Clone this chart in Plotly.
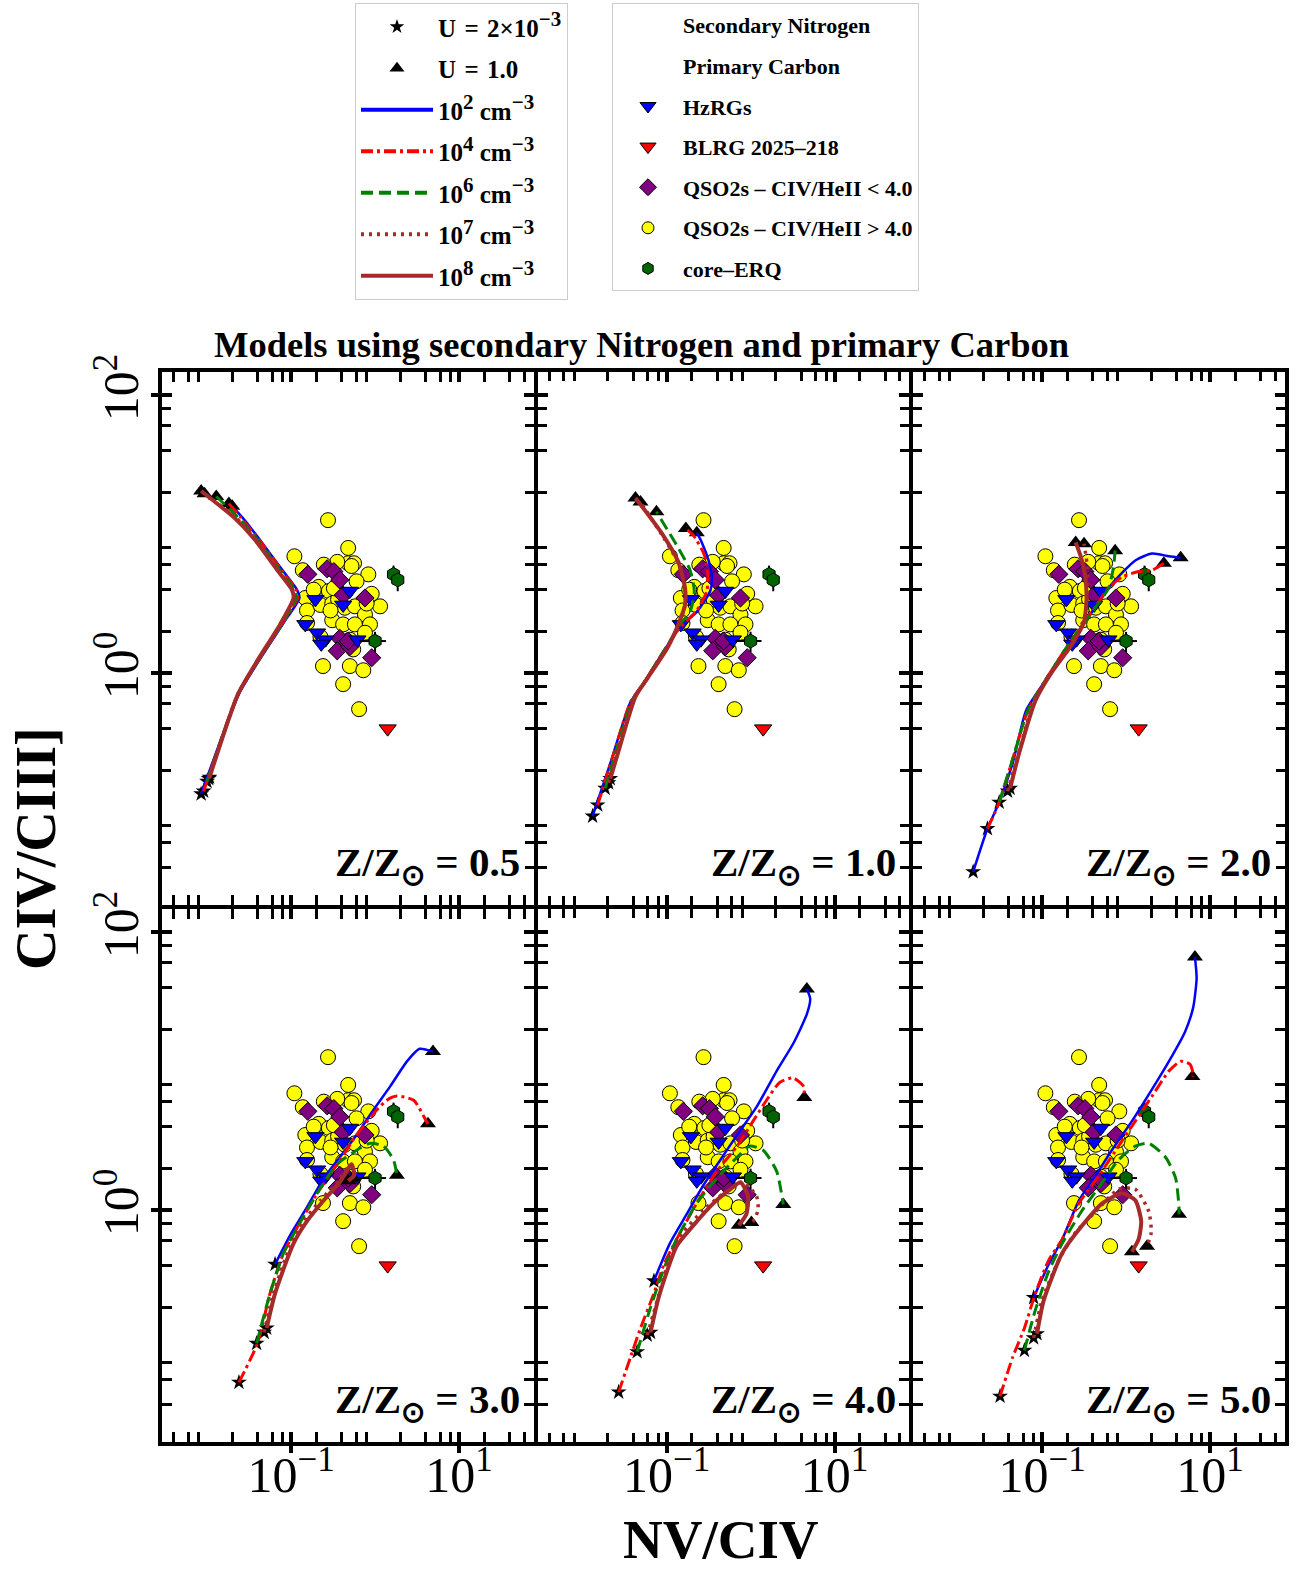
import numpy as np
import plotly.graph_objects as go

W, H = 1307, 1573
FONT = "Liberation Serif"

# ---------------- observations: log10(NV/CIV), log10(CIV/CIII]) ----------------
qso2_hi_lognv = [-0.56, -0.96, -0.32, -0.32, -0.25, -0.28, -0.08, -0.45, -0.61, -0.86, -0.22,
                 -0.67, -0.55, -0.83, -0.04, 0.06, -0.81, -0.65, -0.51, -0.36, -0.24, -0.12,
                 -0.51, -0.38, -0.24, -0.06, -0.81, -0.65, -0.12, -0.62, -0.30, -0.14, -0.38,
                 -0.19, -0.73, -0.44, -0.30, -0.26, -0.10, -0.49, -0.53]
qso2_hi_logciv = [1.10, 0.84, 0.90, 0.79, 0.79, 0.77, 0.71, 0.80, 0.78, 0.74, 0.66,
                  0.62, 0.59, 0.54, 0.57, 0.48, 0.45, 0.49, 0.50, 0.47, 0.48, 0.42,
                  0.38, 0.35, 0.35, 0.35, 0.36, 0.26, 0.29, 0.05, 0.05, 0.02, -0.08,
                  -0.26, 0.60, 0.53, 0.24, 0.17, 0.50, 0.61, 0.45]

qso2_lo_lognv = [-0.80, -0.57, -0.49, -0.42, -0.38, -0.12, -0.42, -0.45, -0.30, -0.04, -0.32]
qso2_lo_logciv = [0.71, 0.75, 0.73, 0.67, 0.56, 0.54, 0.25, 0.16, 0.19, 0.11, 0.23]

hzrg_lognv = [-0.71, -0.38, -0.30, -0.83, -0.69, -0.59, -0.64, -0.21]
hzrg_logciv = [0.53, 0.49, 0.59, 0.35, 0.29, 0.24, 0.21, 0.24]

blrg_lognv = [0.15]
blrg_logciv = [-0.40]

erq_lognv = [0.22, 0.27, 0.00]
erq_logciv = [0.71, 0.67, 0.23]
erq_err_nv = [0.0, 0.0, 0.35]
erq_err_civ = [0.8, 0.8, 0.28]

# ---------------- photoionisation model tracks (log10 values) ----------------
# order of tracks in each panel: 1e2, 1e4, 1e6, 1e7, 1e8 cm^-3 ; first point U=2e-3, last U=1.0
z05_x = [[-2.07, -1.62, -1.36, -1.09, -0.90, -0.93, -1.09, -1.36, -1.58, -1.70],
         [-2.04, -1.63, -1.37, -1.10, -0.92, -0.94, -1.10, -1.37, -1.60, -1.74],
         [-2.00, -1.63, -1.38, -1.11, -0.94, -0.96, -1.12, -1.40, -1.63, -1.89],
         [-1.98, -1.63, -1.38, -1.12, -0.96, -0.98, -1.14, -1.42, -1.66, -2.03],
         [-1.97, -1.63, -1.39, -1.13, -0.97, -0.99, -1.15, -1.43, -1.68, -2.07]]
z05_y = [[-0.87, -0.15, 0.11, 0.36, 0.54, 0.60, 0.73, 0.95, 1.12, 1.20],
         [-0.85, -0.15, 0.11, 0.36, 0.54, 0.60, 0.73, 0.95, 1.12, 1.22],
         [-0.78, -0.15, 0.10, 0.35, 0.54, 0.60, 0.73, 0.96, 1.12, 1.27],
         [-0.76, -0.15, 0.10, 0.35, 0.54, 0.60, 0.73, 0.96, 1.12, 1.29],
         [-0.75, -0.15, 0.10, 0.35, 0.54, 0.60, 0.73, 0.96, 1.12, 1.31]]

z10_x = [[-1.88, -1.67, -1.43, -1.27, -1.03, -0.84, -0.64, -0.48, -0.46, -0.50, -0.58, -0.64],
         [-1.82, -1.65, -1.43, -1.27, -1.03, -0.84, -0.64, -0.52, -0.51, -0.55, -0.68, -0.77],
         [-1.73, -1.63, -1.41, -1.27, -1.03, -0.84, -0.72, -0.67, -0.72, -0.88, -1.12],
         [-1.69, -1.61, -1.39, -1.25, -1.01, -0.86, -0.78, -0.78, -0.86, -1.03, -1.31],
         [-1.67, -1.60, -1.37, -1.23, -0.99, -0.88, -0.78, -0.78, -0.86, -1.05, -1.37]]
z10_y = [[-1.03, -0.65, -0.21, -0.07, 0.16, 0.33, 0.44, 0.59, 0.69, 0.81, 0.94, 1.01],
         [-0.95, -0.62, -0.21, -0.07, 0.16, 0.33, 0.45, 0.59, 0.71, 0.85, 0.99, 1.04],
         [-0.83, -0.62, -0.20, -0.07, 0.16, 0.35, 0.44, 0.59, 0.74, 0.92, 1.16],
         [-0.79, -0.62, -0.18, -0.06, 0.17, 0.33, 0.49, 0.61, 0.79, 0.97, 1.23],
         [-0.76, -0.62, -0.17, -0.04, 0.18, 0.32, 0.49, 0.61, 0.80, 1.00, 1.26]]

z20_x = [[-1.82, -1.65, -1.51, -1.35, -1.19, -1.00, -0.80, -0.64, -0.44, -0.17, 0.11, 0.31, 0.51, 0.65],
         [-1.65, -1.51, -1.35, -1.17, -1.00, -0.68, -0.44, -0.21, -0.05, 0.15, 0.31, 0.45],
         [-1.51, -1.35, -1.17, -1.00, -0.68, -0.44, -0.21, -0.15, -0.13],
         [-1.41, -1.29, -1.10, -0.92, -0.68, -0.50, -0.46, -0.46, -0.50],
         [-1.38, -1.27, -1.08, -0.88, -0.64, -0.50, -0.47, -0.49, -0.54, -0.60]]
z20_y = [[-1.43, -1.12, -0.93, -0.65, -0.27, -0.09, 0.08, 0.23, 0.41, 0.64, 0.81, 0.86, 0.84, 0.83],
         [-1.12, -0.93, -0.62, -0.27, -0.09, 0.21, 0.41, 0.61, 0.69, 0.73, 0.74, 0.79],
         [-0.93, -0.62, -0.27, -0.09, 0.21, 0.41, 0.61, 0.76, 0.88],
         [-0.85, -0.60, -0.21, -0.02, 0.18, 0.39, 0.59, 0.76, 0.93],
         [-0.83, -0.57, -0.20, 0.01, 0.21, 0.37, 0.54, 0.71, 0.84, 0.94]]

z30_x = [[-1.19, -1.01, -0.81, -0.61, -0.42, -0.22, -0.02, 0.18, 0.38, 0.53, 0.69],
         [-1.62, -1.40, -1.25, -1.09, -0.93, -0.69, -0.45, -0.22, 0.02, 0.14, 0.26, 0.46, 0.61, 0.63],
         [-1.41, -1.25, -1.09, -0.93, -0.69, -0.45, -0.22, -0.06, 0.10, 0.22, 0.26],
         [-1.32, -1.21, -1.01, -0.85, -0.65, -0.45, -0.30, -0.24, -0.26],
         [-1.29, -1.19, -0.97, -0.81, -0.61, -0.42, -0.28, -0.25, -0.32]]
z30_y = [[-0.39, -0.18, 0.02, 0.23, 0.38, 0.54, 0.72, 0.89, 1.07, 1.16, 1.14],
         [-1.24, -0.96, -0.60, -0.31, -0.13, 0.12, 0.33, 0.54, 0.72, 0.79, 0.82, 0.79, 0.64, 0.62],
         [-0.96, -0.60, -0.31, -0.13, 0.12, 0.33, 0.43, 0.48, 0.46, 0.36, 0.25],
         [-0.88, -0.60, -0.26, -0.08, 0.07, 0.20, 0.32, 0.28, 0.23],
         [-0.85, -0.60, -0.24, -0.08, 0.07, 0.20, 0.33, 0.25, 0.21]]

z40_x = [[-1.15, -0.96, -0.76, -0.56, -0.36, -0.16, 0.07, 0.31, 0.51, 0.67, 0.71, 0.67],
         [-1.57, -1.43, -1.31, -1.15, -1.03, -0.88, -0.64, -0.40, -0.16, 0.03, 0.19, 0.35, 0.51, 0.63, 0.64],
         [-1.35, -1.19, -1.03, -0.88, -0.64, -0.40, -0.16, -0.01, 0.15, 0.31, 0.39],
         [-1.23, -1.11, -0.96, -0.80, -0.56, -0.32, -0.09, 0.07, 0.09, 0.03, 0.01],
         [-1.19, -1.09, -0.88, -0.68, -0.44, -0.24, -0.12, -0.03, -0.05, -0.14]]
z40_y = [[-0.51, -0.24, -0.03, 0.18, 0.36, 0.54, 0.74, 1.00, 1.20, 1.41, 1.52, 1.59],
         [-1.31, -1.06, -0.85, -0.60, -0.39, -0.21, 0.05, 0.28, 0.46, 0.64, 0.79, 0.92, 0.95, 0.89, 0.81],
         [-1.02, -0.70, -0.42, -0.21, 0.05, 0.23, 0.38, 0.46, 0.43, 0.28, 0.04],
         [-0.90, -0.65, -0.34, -0.16, 0.00, 0.12, 0.20, 0.10, 0.00, -0.08, -0.09],
         [-0.88, -0.62, -0.26, -0.11, 0.05, 0.15, 0.20, 0.10, -0.03, -0.11]]

z50_x = [[-1.10, -0.92, -0.76, -0.56, -0.36, -0.17, 0.07, 0.31, 0.51, 0.70, 0.80, 0.84, 0.82],
         [-1.50, -1.35, -1.21, -1.08, -0.92, -0.76, -0.56, -0.32, -0.09, 0.11, 0.31, 0.51, 0.65, 0.76, 0.80, 0.79],
         [-1.21, -1.08, -0.92, -0.76, -0.52, -0.28, -0.09, 0.11, 0.27, 0.47, 0.59, 0.63, 0.63],
         [-1.10, -1.00, -0.80, -0.60, -0.36, -0.09, 0.11, 0.27, 0.30, 0.25],
         [-1.06, -0.98, -0.76, -0.52, -0.28, -0.05, 0.11, 0.18, 0.15, 0.07]]
z50_y = [[-0.63, -0.39, -0.21, 0.07, 0.25, 0.43, 0.64, 0.87, 1.07, 1.28, 1.46, 1.67, 1.82],
         [-1.34, -1.06, -0.85, -0.60, -0.36, -0.21, 0.05, 0.25, 0.46, 0.64, 0.82, 1.00, 1.07, 1.05, 0.97, 0.96],
         [-1.01, -0.72, -0.44, -0.24, 0.00, 0.20, 0.36, 0.46, 0.48, 0.38, 0.23, 0.02, -0.03],
         [-0.92, -0.65, -0.36, -0.16, -0.01, 0.15, 0.15, -0.01, -0.16, -0.26],
         [-0.89, -0.65, -0.31, -0.11, 0.05, 0.12, 0.07, -0.08, -0.21, -0.30]]

metallicities = ["0.5", "1.0", "2.0", "3.0", "4.0", "5.0"]
panel_x = [z05_x, z10_x, z20_x, z30_x, z40_x, z50_x]
panel_y = [z05_y, z10_y, z20_y, z30_y, z40_y, z50_y]

SUP = '<sup><span style="font-size:21px">%s</span></sup>'
SP = "\u2004"
density_labels = ["10" + SUP % "2" + " cm" + SUP % "−3", "10" + SUP % "4" + " cm" + SUP % "−3",
                  "10" + SUP % "6" + " cm" + SUP % "−3", "10" + SUP % "7" + " cm" + SUP % "−3",
                  "10" + SUP % "8" + " cm" + SUP % "−3"]
track_colors = ["#0000ff", "#ff0000", "#008000", "#a52a2a", "#a52a2a"]
track_dash = ["solid", "12px,4px,3px,4px", "12px,6px", "3px,5px", "solid"]
track_width = [2.5, 3, 3, 3.5, 4]

x_minor = [m * 10.0 ** k for k in range(-3, 2) for m in (2, 4, 6, 8)]
y_minor = [m * 10.0 ** k for k in range(-2, 2) for m in (2, 4, 6, 8)]
x_major = [0.1, 10]
y_major = [1, 100]


def lin(a):
    return 10.0 ** np.asarray(a, dtype=float)


fig = go.Figure()

LW = 4  # frame line width
x_edges = [160, 535.5, 911, 1286.5]   # frame centre lines (px)
y_edges = [370, 907, 1444]
X_RANGE = [-2.536, 1.886]
Y_RANGE = [-1.669, 2.166]

layout_axes = {}
annotations = []
for i in range(6):
    r, c = divmod(i, 3)
    sfx = "" if i == 0 else str(i + 1)
    xa = "x" + sfx
    ya = "y" + sfx
    xd = [(x_edges[c] + LW / 2) / W, (x_edges[c + 1] - LW / 2) / W]
    yd = [1 - (y_edges[r + 1] - LW / 2) / H, 1 - (y_edges[r] + LW / 2) / H]
    common = dict(type="log", showline=True, linecolor="black", linewidth=LW, mirror="allticks",
                  ticks="inside", ticklen=10, tickwidth=4, tickcolor="black",
                  showgrid=False, zeroline=False,
                  tickfont=dict(family=FONT, size=50, color="black"))
    layout_axes["xaxis" + sfx] = dict(
        common, domain=xd, anchor=ya, range=X_RANGE,
        tickmode="array", tickvals=x_major, ticktext=["10<sup>−1</sup>", "10<sup>1</sup>"],
        showticklabels=(r == 1), ticklabelstandoff=-14,
        minor=dict(ticks="inside", ticklen=9, tickwidth=2.5, tickcolor="black",
                   showgrid=False, tickmode="array", tickvals=x_minor))
    layout_axes["yaxis" + sfx] = dict(
        common, domain=yd, anchor=xa, range=Y_RANGE,
        tickmode="array", tickvals=y_major, ticktext=["10<sup>0</sup>", "10<sup>2</sup>"],
        showticklabels=(c == 0), tickangle=-90,
        minor=dict(ticks="inside", ticklen=9, tickwidth=2.5, tickcolor="black",
                   showgrid=False, tickmode="array", tickvals=y_minor))

    # observations
    fig.add_trace(go.Scatter(x=lin(qso2_hi_lognv), y=lin(qso2_hi_logciv), xaxis=xa, yaxis=ya,
                             mode="markers", showlegend=False,
                             marker=dict(symbol="circle", size=15, color="#ffff00",
                                         line=dict(color="black", width=1))))
    fig.add_trace(go.Scatter(x=lin(qso2_lo_lognv), y=lin(qso2_lo_logciv), xaxis=xa, yaxis=ya,
                             mode="markers", showlegend=False,
                             marker=dict(symbol="diamond", size=14, color="#800080",
                                         line=dict(color="black", width=1))))
    fig.add_trace(go.Scatter(x=lin(hzrg_lognv), y=lin(hzrg_logciv), xaxis=xa, yaxis=ya,
                             mode="markers", showlegend=False,
                             marker=dict(symbol="triangle-down", size=15, color="#0000ff",
                                         line=dict(color="black", width=1))))
    fig.add_trace(go.Scatter(x=lin(blrg_lognv), y=lin(blrg_logciv), xaxis=xa, yaxis=ya,
                             mode="markers", showlegend=False,
                             marker=dict(symbol="triangle-down", size=15, color="#ff0000",
                                         line=dict(color="black", width=1))))
    fig.add_trace(go.Scatter(x=lin(erq_lognv), y=lin(erq_logciv), xaxis=xa, yaxis=ya,
                             mode="markers", showlegend=False,
                             error_x=dict(type="data", array=erq_err_nv, color="black",
                                          thickness=2, width=0),
                             error_y=dict(type="data", array=erq_err_civ, color="black",
                                          thickness=2, width=0),
                             marker=dict(symbol="hexagon", size=14, color="#006400",
                                         line=dict(color="black", width=1))))

    # model tracks: end markers then lines
    tx, ty = panel_x[i], panel_y[i]
    fig.add_trace(go.Scatter(x=lin([t[0] for t in tx]), y=lin([t[0] for t in ty]),
                             xaxis=xa, yaxis=ya, mode="markers", showlegend=False,
                             marker=dict(symbol="star", size=12, color="black")))
    fig.add_trace(go.Scatter(x=lin([t[-1] for t in tx]), y=lin([t[-1] for t in ty]),
                             xaxis=xa, yaxis=ya, mode="markers", showlegend=False,
                             marker=dict(symbol="triangle-up", size=14, color="black")))
    for k in range(5):
        fig.add_trace(go.Scatter(x=lin(tx[k]), y=lin(ty[k]), xaxis=xa, yaxis=ya,
                                 mode="lines", showlegend=False,
                                 line=dict(color=track_colors[k], dash=track_dash[k],
                                           width=track_width[k], shape="spline",
                                           smoothing=0.6)))

    annotations.append(dict(text="Z/Z<sub>⊙</sub> = " + metallicities[i],
                            xref=xa + " domain", yref=ya + " domain",
                            x=0.97, y=0.022, xanchor="right", yanchor="bottom",
                            showarrow=False,
                            font=dict(family=FONT, size=41, color="black", weight="bold")))

# outward part of the major ticks on the outer frame (bottom row / left column)
outer = dict(type="log", showline=False, showgrid=False, zeroline=False, ticks="outside",
             ticklen=10, tickwidth=4, tickcolor="black", showticklabels=False, tickmode="array")
for j, (base_x, base_y) in enumerate([("x4", "y4"), ("x5", "y5"), ("x6", "y6")]):
    name = "xaxis%d" % (7 + j)
    layout_axes[name] = dict(outer, overlaying=base_x, anchor=base_y, side="bottom",
                             range=X_RANGE, tickvals=x_major)
    fig.add_trace(go.Scatter(x=[None], y=[None], xaxis="x%d" % (7 + j), yaxis=base_y,
                             mode="markers", showlegend=False, hoverinfo="skip"))
for j, (base_x, base_y) in enumerate([("x", "y"), ("x4", "y4")]):
    name = "yaxis%d" % (7 + j)
    layout_axes[name] = dict(outer, overlaying=base_y, anchor=base_x, side="left",
                             range=Y_RANGE, tickvals=y_major)
    fig.add_trace(go.Scatter(x=[None], y=[None], xaxis=base_x, yaxis="y%d" % (7 + j),
                             mode="markers", showlegend=False, hoverinfo="skip"))

# ---------------- legend-only entries ----------------
leg1 = dict(legend="legend")
fig.add_trace(go.Scatter(x=[None], y=[None], mode="markers",
                         name="U" + SP + "=" + SP + "2×10" + SUP % "−3",
                         marker=dict(symbol="star", size=11, color="black"),
                         legendgroup="a1", **leg1))
fig.add_trace(go.Scatter(x=[None], y=[None], mode="markers",
                         name="U" + SP + "=" + SP + "1.0",
                         marker=dict(symbol="triangle-up", size=13, color="black"),
                         legendgroup="a2", **leg1))
for k in range(5):
    fig.add_trace(go.Scatter(x=[None], y=[None], mode="lines", name=density_labels[k],
                             line=dict(color=track_colors[k], dash=track_dash[k], width=4),
                             legendgroup="b%d" % k, **leg1))

leg2 = dict(legend="legend2")
blank = dict(size=1, color="rgba(0,0,0,0)", line=dict(width=0))
fig.add_trace(go.Scatter(x=[None], y=[None], mode="markers", name="Secondary Nitrogen",
                         marker=blank, legendgroup="c1", **leg2))
fig.add_trace(go.Scatter(x=[None], y=[None], mode="markers", name="Primary Carbon",
                         marker=blank, legendgroup="c2", **leg2))
fig.add_trace(go.Scatter(x=[None], y=[None], mode="markers", name="HzRGs",
                         marker=dict(symbol="triangle-down", size=14, color="#0000ff",
                                     line=dict(color="black", width=1)),
                         legendgroup="c3", **leg2))
fig.add_trace(go.Scatter(x=[None], y=[None], mode="markers", name="BLRG 2025–218",
                         marker=dict(symbol="triangle-down", size=14, color="#ff0000",
                                     line=dict(color="black", width=1)),
                         legendgroup="c4", **leg2))
fig.add_trace(go.Scatter(x=[None], y=[None], mode="markers", name="QSO2s – CIV/HeII &lt; 4.0",
                         marker=dict(symbol="diamond", size=13, color="#800080",
                                     line=dict(color="black", width=1)),
                         legendgroup="c5", **leg2))
fig.add_trace(go.Scatter(x=[None], y=[None], mode="markers", name="QSO2s – CIV/HeII &gt; 4.0",
                         marker=dict(symbol="circle", size=12, color="#ffff00",
                                     line=dict(color="black", width=1)),
                         legendgroup="c6", **leg2))
fig.add_trace(go.Scatter(x=[None], y=[None], mode="markers", name="core–ERQ",
                         marker=dict(symbol="hexagon", size=12, color="#006400",
                                     line=dict(color="black", width=1)),
                         legendgroup="c7", **leg2))

annotations += [
    dict(text="Models using secondary Nitrogen and primary Carbon", xref="paper", yref="paper",
         x=641 / W, y=1 - 344 / H, xanchor="center", yanchor="middle", showarrow=False,
         font=dict(family=FONT, size=36.5, color="black", weight="bold")),
    dict(text="CIV/CIII]", xref="paper", yref="paper", x=36 / W, y=1 - 849 / H,
         xanchor="center", yanchor="middle", textangle=-90, showarrow=False,
         font=dict(family=FONT, size=56, color="black", weight="bold")),
    dict(text="NV/CIV", xref="paper", yref="paper", x=721 / W, y=1 - 1539 / H,
         xanchor="center", yanchor="middle", showarrow=False,
         font=dict(family=FONT, size=55, color="black", weight="bold")),
]

fig.update_layout(
    width=W, height=H,
    margin=dict(l=0, r=0, t=0, b=0, autoexpand=False),
    paper_bgcolor="white", plot_bgcolor="white",
    showlegend=True,
    legend=dict(x=355 / W, y=1 - 3 / H, xanchor="left", yanchor="top",
                bgcolor="white", bordercolor="#cccccc", borderwidth=1,
                font=dict(family=FONT, size=25, color="black", weight="bold"),
                tracegroupgap=6, itemwidth=72, traceorder="grouped"),
    legend2=dict(x=612 / W, y=1 - 3 / H, xanchor="left", yanchor="top",
                 bgcolor="white", bordercolor="#cccccc", borderwidth=1,
                 font=dict(family=FONT, size=22, color="black", weight="bold"),
                 tracegroupgap=9, itemwidth=60, traceorder="grouped"),
    annotations=annotations,
    **layout_axes,
)

fig.write_html("out.html")
